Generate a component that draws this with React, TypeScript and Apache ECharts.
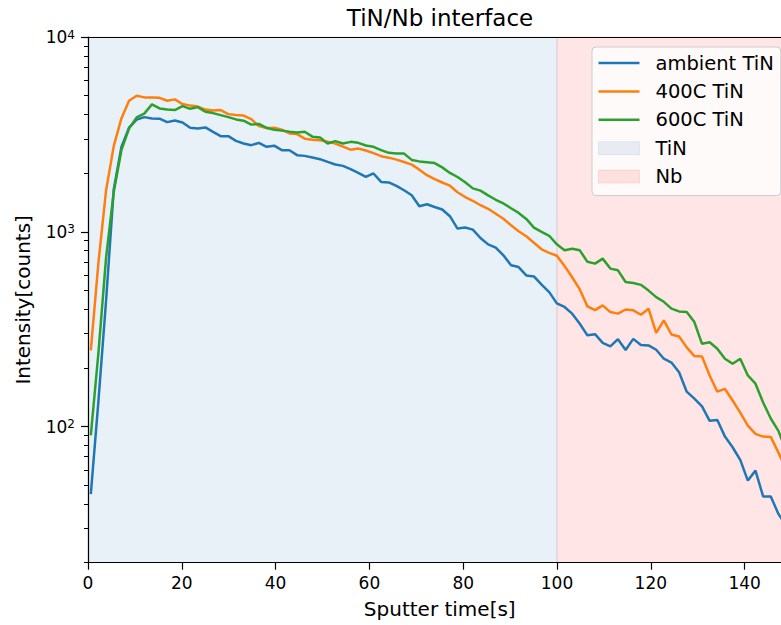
import { useEffect, useRef } from "react";
import * as echarts from "echarts";

const sputterTime = [
  0.6, 2.23, 3.86, 5.49, 7.12, 8.75, 10.37, 12.0, 13.63, 15.26,
  16.89, 18.52, 20.15, 21.78, 23.41, 25.04, 26.66, 28.29, 29.92, 31.55,
  33.18, 34.81, 36.44, 38.07, 39.7, 41.33, 42.95, 44.58, 46.21, 47.84,
  49.47, 51.1, 52.73, 54.36, 55.99, 57.62, 59.24, 60.87, 62.5, 64.13,
  65.76, 67.39, 69.02, 70.65, 72.28, 73.91, 75.53, 77.16, 78.79, 80.42,
  82.05, 83.68, 85.31, 86.94, 88.57, 90.2, 91.82, 93.45, 95.08, 96.71,
  98.34, 99.97, 101.6, 103.23, 104.86, 106.49, 108.11, 109.74, 111.37, 113.0,
  114.63, 116.26, 117.89, 119.52, 121.15, 122.78, 124.4, 126.03, 127.66, 129.29,
  130.92, 132.55, 134.18, 135.81, 137.44, 139.07, 140.69, 142.32, 143.95, 145.58,
  147.21, 148.84,
];

const ambientTiN = [
  45, 136, 445, 1650, 2729, 3425, 3765, 3879, 3819, 3806,
  3656, 3730, 3642, 3417, 3393, 3433, 3260, 3097, 3097, 2930,
  2841, 2784, 2861, 2729, 2768, 2624, 2624, 2474, 2453, 2407,
  2359, 2285, 2215, 2179, 2096, 2006, 1913, 1992, 1803, 1791,
  1720, 1634, 1540, 1352, 1385, 1341, 1301, 1202, 1039, 1051,
  1026, 929, 862, 830, 757, 673, 659, 597, 590, 535,
  490, 429, 411, 380, 337, 294, 298, 269, 258, 281,
  247, 282, 262, 261, 248, 223, 213, 190, 151, 139,
  127, 107, 108, 88.8, 78.3, 67.4, 52.8, 59.4, 43.8, 43.8,
  35.6, 31,
];

const tiN400C = [
  246, 697, 1634, 2752, 3819, 4705, 4992, 4898, 4888, 4874,
  4705, 4783, 4524, 4444, 4392, 4239, 4189, 4214, 4018, 3972,
  3948, 3788, 3486, 3405, 3425, 3345, 3198, 3172, 3007, 2972,
  2954, 2902, 2834, 2735, 2640, 2678, 2615, 2533, 2445, 2402,
  2346, 2282, 2211, 2084, 1952, 1862, 1791, 1724, 1596, 1508,
  1443, 1369, 1312, 1237, 1166, 1080, 1006, 948, 878, 813,
  780, 753, 668, 584, 506, 414, 396, 419, 387, 380,
  399, 395, 375, 403, 303, 351, 297, 290, 255, 230,
  229, 183, 151, 156, 136, 118, 101, 91.7, 88.8, 88.5,
  73.5, 60.8,
];

const tiN600C = [
  90, 240, 739, 1602, 2624, 3385, 3865, 4043, 4508, 4299,
  4239, 4214, 4418, 4279, 4366, 4130, 4067, 3972, 3879, 3775,
  3720, 3549, 3580, 3420, 3337, 3306, 3267, 3236, 3260, 3079,
  3050, 2841, 2920, 2841, 2895, 2861, 2774, 2729, 2624, 2542,
  2523, 2520, 2339, 2298, 2277, 2253, 2141, 2006, 1911, 1795,
  1670, 1627, 1537, 1460, 1398, 1321, 1250, 1164, 1051, 998,
  954, 862, 803, 818, 803, 701, 686, 728, 647, 634,
  552, 546, 534, 499, 462, 437, 403, 390, 387, 344,
  266, 271, 251, 223, 210, 223, 183, 166, 133, 110,
  95, 75,
];

const seriesNames = ["ambient TiN", "400C TiN", "600C TiN"];
const seriesColors = ["#1f77b4", "#ff7f0e", "#2ca02c"];
const regionNames = ["TiN", "Nb"];
const regionColors = ["rgba(31,119,180,0.1)", "rgba(255,0,0,0.1)"];
const tinRegion = [0, 100];
const nbRegion = [100, 150];
const xTicks = [0, 20, 40, 60, 80, 100, 120, 140];
const yMajorTicks = [100, 1000, 10000];
const yMinorTicks = [
  20, 30, 40, 50, 60, 70, 80, 90,
  200, 300, 400, 500, 600, 700, 800, 900,
  2000, 3000, 4000, 5000, 6000, 7000, 8000, 9000,
];

const FONT = "DejaVu Sans";
const LINE_ICON = "path://M0,0H41V2.5H0Z";

export default function App() {
  const ref = useRef<HTMLDivElement>(null);

  useEffect(() => {
    const chart = echarts.init(ref.current!, null, { renderer: "svg" });
    const pair = (ys: number[]) => sputterTime.map((t, i) => [t, ys[i]]);
    const lineData = [ambientTiN, tiN400C, tiN600C];

    const regionSeries = [tinRegion, nbRegion].map((r, i) => ({
      name: regionNames[i],
      type: "line",
      data: [],
      z: 0,
      itemStyle: { color: regionColors[i], borderColor: regionColors[i], borderWidth: 1 },
      lineStyle: { color: regionColors[i] },
      markArea: {
        silent: true,
        z: 0,
        itemStyle: { color: regionColors[i], borderColor: regionColors[i], borderWidth: 1 },
        data: [[{ xAxis: r[0] }, { xAxis: r[1] }]],
      },
    }));

    const lines = lineData.map((d, i) => ({
      name: seriesNames[i],
      type: "line",
      data: pair(d),
      symbol: "none",
      showSymbol: false,
      clip: true,
      z: 3,
      color: seriesColors[i],
      lineStyle: { width: 2.5, color: seriesColors[i] },
      itemStyle: { color: seriesColors[i] },
    }));

    const option: any = {
      animation: false,
      backgroundColor: "#ffffff",
      textStyle: { fontFamily: FONT },
      grid: { left: 88, right: 0.5, top: 37, bottom: 62.3, containLabel: false },
      graphic: [
        {
          type: "text",
          x: 440,
          y: 18,
          style: {
            text: "TiN/Nb interface",
            font: `23px "${FONT}"`,
            fill: "#000",
            align: "center",
            verticalAlign: "middle",
          },
        },
      ],
      legend: {
        orient: "vertical",
        left: 592,
        top: 47,
        data: [
          { name: seriesNames[0], icon: LINE_ICON, itemStyle: { color: seriesColors[0] } },
          { name: seriesNames[1], icon: LINE_ICON, itemStyle: { color: seriesColors[1] } },
          { name: seriesNames[2], icon: LINE_ICON, itemStyle: { color: seriesColors[2] } },
          { name: regionNames[0], icon: "rect", itemStyle: { color: regionColors[0], borderColor: regionColors[0], borderWidth: 1 } },
          { name: regionNames[1], icon: "rect", itemStyle: { color: regionColors[1], borderColor: regionColors[1], borderWidth: 1 } },
        ],
        itemWidth: 41,
        itemHeight: 13,
        itemGap: 8.4,
        padding: [6, 7, 9, 6],
        backgroundColor: "rgba(255,255,255,0.8)",
        borderColor: "#cccccc",
        borderWidth: 1,
        borderRadius: 4,
        selectedMode: false,
        textStyle: { fontSize: 19.5, fontFamily: FONT, color: "#000", lineHeight: 20, padding: [0, 0, 0, 11] },
      },
      xAxis: [
        {
          type: "value",
          min: 0,
          max: 150,
          interval: 20,
          name: "Sputter time[s]",
          nameLocation: "middle",
          nameGap: 36,
          nameTextStyle: { fontSize: 20, fontFamily: FONT, color: "#000" },
          axisLine: { show: true, onZero: false, lineStyle: { color: "#000", width: 1.2 } },
          axisTick: { show: true, length: 7, customValues: xTicks, lineStyle: { color: "#000", width: 1.2 } },
          axisLabel: { customValues: xTicks, margin: 12, fontSize: 17, fontFamily: FONT, color: "#000" },
          splitLine: { show: false },
        },
        {
          type: "value",
          position: "top",
          min: 0,
          max: 150,
          axisLine: { show: true, onZero: false, lineStyle: { color: "#000", width: 1.2 } },
          axisTick: { show: false },
          axisLabel: { show: false },
          splitLine: { show: false },
        },
      ],
      yAxis: [
        {
          type: "log",
          logBase: 10,
          min: 20,
          max: 10000,
          name: "Intensity[counts]",
          nameLocation: "middle",
          nameGap: 55,
          nameTextStyle: { fontSize: 20, fontFamily: FONT, color: "#000" },
          axisLine: { show: true, onZero: false, lineStyle: { color: "#000", width: 1.2 } },
          axisTick: { show: true, length: 7, customValues: yMajorTicks, lineStyle: { color: "#000", width: 1.2 } },
          axisLabel: {
            customValues: yMajorTicks,
            margin: 13,
            formatter: (v: number) => `{b|10}{s|${Math.round(Math.log10(v))}}`,
            rich: {
              b: { fontSize: 17, fontFamily: FONT, color: "#000", lineHeight: 17, verticalAlign: "bottom" },
              s: { fontSize: 12, fontFamily: FONT, color: "#000", lineHeight: 12, verticalAlign: "top", padding: [0, 0, 8, 0] },
            },
          },
          splitLine: { show: false },
          minorTick: { show: false },
        },
        {
          type: "log",
          logBase: 10,
          min: 20,
          max: 10000,
          position: "left",
          offset: 0,
          axisLine: { show: false },
          axisTick: { show: true, length: 4, customValues: yMinorTicks, lineStyle: { color: "#000", width: 1 } },
          axisLabel: { show: false },
          splitLine: { show: false },
        },
      ],
      series: [...regionSeries, ...lines],
    };

    chart.setOption(option);
    return () => chart.dispose();
  }, []);

  return (
    <div
      ref={ref}
      style={{ position: "fixed", left: 0, top: 0, width: 792, height: 625 }}
    />
  );
}
